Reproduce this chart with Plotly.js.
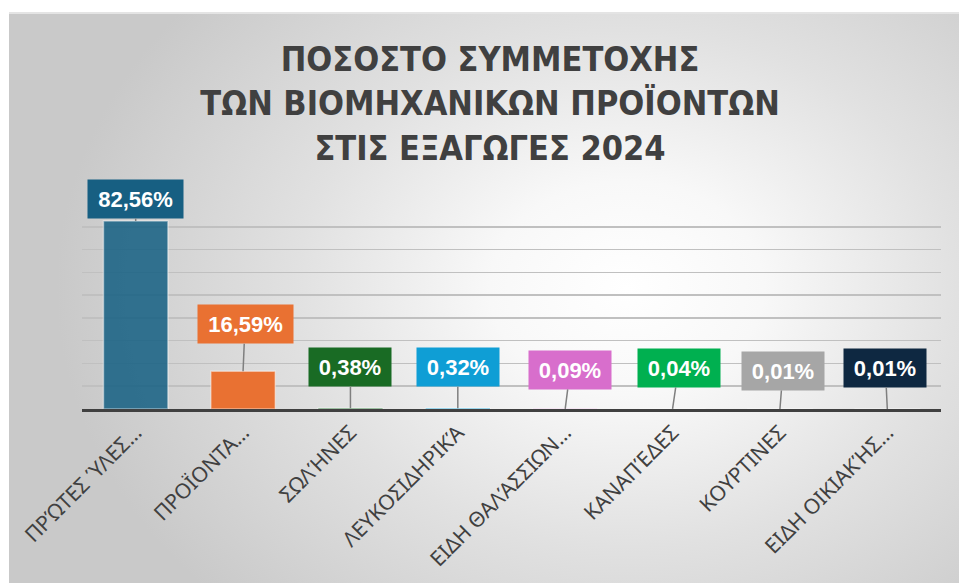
<!DOCTYPE html>
<html>
<head>
<meta charset="utf-8">
<script src="https://cdn.plot.ly/plotly-3.0.1.min.js"></script>
<style>
  body { margin: 0; background: #ffffff; }
  #frame {
    position: absolute; left: 9px; top: 12px; width: 950px; height: 571px;
    border-top: 2px solid #e4e4e4;
    background: radial-gradient(ellipse 60% 78% at 65% 48%, #ffffff 0%, #f8f8f8 24%, #e1e1e1 58%, #c9c9c9 100%);
  }
  #chart { position: absolute; left: 0; top: 0; width: 959px; height: 583px; }
</style>
</head>
<body>
<div id="frame"></div>
<div id="chart"></div>
<script>
// categories and shares (%) of industrial exports 2024
const categories = [
  "ΠΡΏΤΕΣ ΎΛΕΣ…",
  "ΠΡΟΪΟΝΤΑ…",
  "ΣΩΛΉΝΕΣ",
  "ΛΕΥΚΟΣΙΔΗΡΙΚΆ",
  "ΕΙΔΗ ΘΑΛΆΣΣΙΩΝ…",
  "ΚΑΝΑΠΈΔΕΣ",
  "ΚΟΥΡΤΙΝΕΣ",
  "ΕΙΔΗ ΟΙΚΙΑΚΉΣ…",
];
const shares = [82.56, 16.59, 0.38, 0.32, 0.09, 0.04, 0.01, 0.01];
const titleLines = ["ΠΟΣΟΣΤΟ ΣΥΜΜΕΤΟΧΗΣ", "ΤΩΝ ΒΙΟΜΗΧΑΝΙΚΩΝ ΠΡΟΪΟΝΤΩΝ", "ΣΤΙΣ ΕΞΑΓΩΓΕΣ 2024"];

const barColors = ["rgba(21,96,130,0.86)", "#e97132", "#196b24", "#0f9ed5", "#d86ecc", "#00b050", "#a6a6a6", "#0e2841"];
const boxColors = ["#175f82", "#e97132", "#196b24", "#0f9ed5", "#d86ecc", "#00b050", "#a6a6a6", "#0e2841"];
// callout offsets (pixels) from the bar top to the label box
const calloutX = [0, 2, 0, 0, 5, 6, 3, -2];
const calloutY = [-22, -47, -41, -41, -39, -41, -38, -41];

const fmt = (v) => v.toFixed(2).replace(".", ",") + "%";

const trace = {
  type: "bar",
  x: categories,
  y: shares,
  marker: { color: barColors, line: { color: "rgba(255,255,255,0.45)", width: 1.5 } },
  hoverinfo: "x+y",
};

const annotations = shares.map((v, i) => ({
  x: categories[i],
  y: v,
  xref: "x",
  yref: "y",
  text: fmt(v),
  showarrow: true,
  arrowhead: 0,
  arrowwidth: 1.5,
  arrowcolor: "#7f7f7f",
  ax: calloutX[i],
  ay: calloutY[i],
  bgcolor: boxColors[i],
  width: i < 2 ? 87 : 74,
  height: 30,
  borderpad: 4,
  font: { family: "Liberation Sans, Arial, sans-serif", size: 22, color: "#ffffff", weight: 700 },
}));

const layout = {
  width: 959,
  height: 583,
  margin: { l: 82, r: 18, t: 204, b: 174 },
  paper_bgcolor: "rgba(0,0,0,0)",
  plot_bgcolor: "rgba(0,0,0,0)",
  bargap: 0.4,
  showlegend: false,
  title: {
    text: titleLines.join("<br>"),
    x: 490 / 959,
    xanchor: "center",
    xref: "container",
    y: 0.878,
    yanchor: "top",
    yref: "container",
    font: { family: "DejaVu Sans Condensed, sans-serif", size: 34, color: "#404040", weight: 700 },
  },
  xaxis: {
    type: "category",
    tickangle: -45,
    tickfont: { family: "Noto Sans, Open Sans, sans-serif", size: 21, color: "#404040" },
    showline: true,
    linecolor: "#404040",
    linewidth: 3,
    ticks: "",
    showgrid: false,
  },
  yaxis: {
    range: [0, 90],
    dtick: 10,
    showticklabels: false,
    gridcolor: "#c0c0c0",
    gridwidth: 1.5,
    zeroline: false,
    fixedrange: true,
  },
  annotations: annotations,
};

Plotly.newPlot("chart", [trace], layout, { displayModeBar: false, staticPlot: true });
</script>
</body>
</html>
